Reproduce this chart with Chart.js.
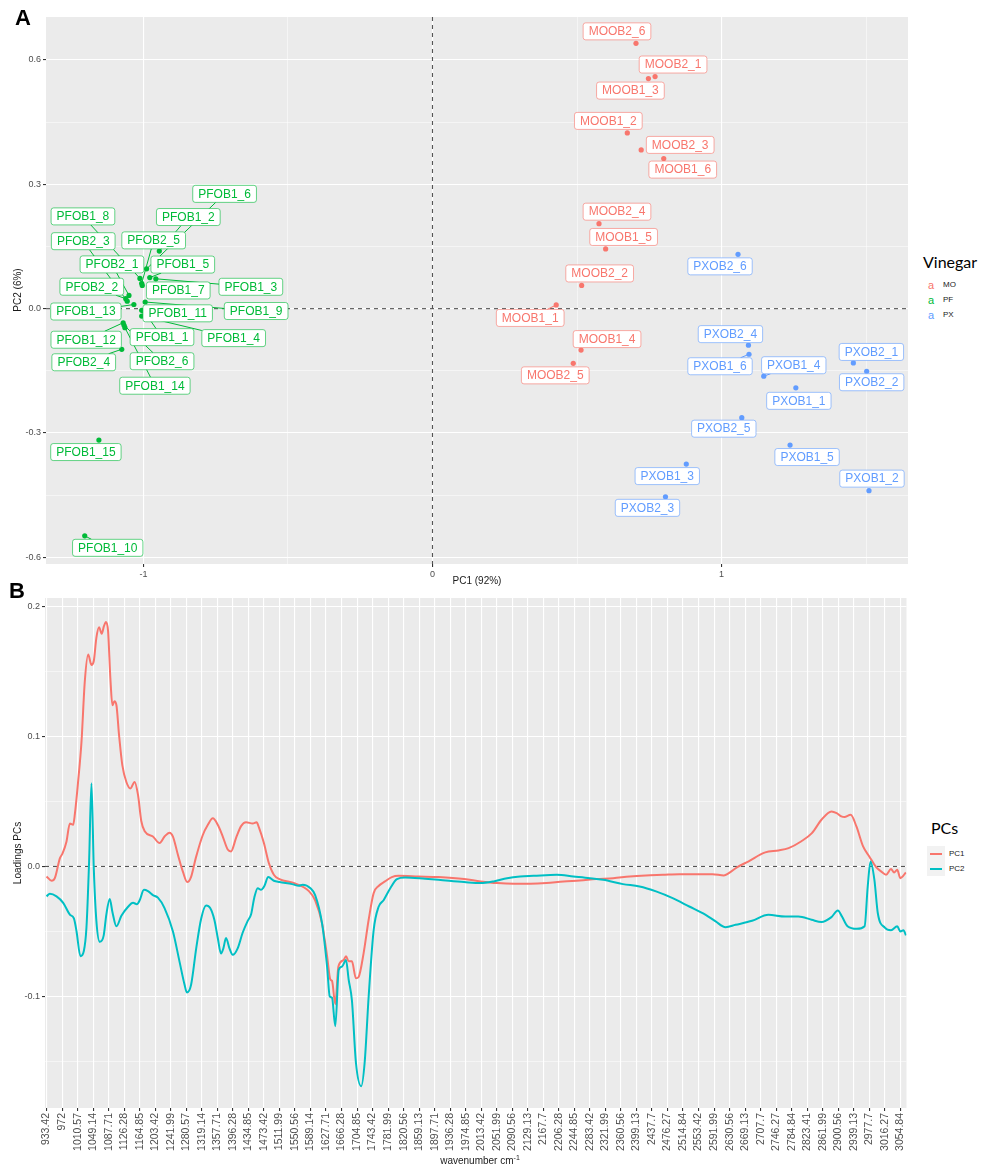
<!DOCTYPE html>
<html>
<head>
<meta charset="utf-8">
<title>Vinegar PCA scores and loadings</title>
<script src="https://cdn.jsdelivr.net/npm/chart.js@4.4.1/dist/chart.umd.min.js"></script>
<style>
  html, body { margin: 0; padding: 0; background: #fff; }
  body { position: relative; width: 982px; height: 1166px; overflow: hidden;
         font-family: "Liberation Sans", Arial, sans-serif; color: #1a1a1a; }
  canvas { position: absolute; left: 0; }
  #scores { top: 0; }
  #loadings { top: 590px; }
  .lbl { position: absolute; white-space: nowrap; line-height: 1; }
  .center { transform: translate(-50%, -50%); }
  .rot { transform: translate(-50%, -50%) rotate(-90deg); }
  .panel { font-size: 22px; font-weight: bold; color: #000; }
  .axis-title { font-size: 10px; color: #1a1a1a; }
  .leg-title { font-family: Lato, "Open Sans", sans-serif; font-size: 16px; color: #000; }
  .leg-text { font-size: 8px; color: #1a1a1a; transform: translateY(-50%); }
  .leg-key { font-size: 11px; transform: translate(-50%, -50%); }
  .key-box { position: absolute; width: 18px; height: 15px; background: #F2F2F2; }
  .key-line { position: absolute; left: 3px; right: 3px; top: 6.5px; height: 2px; }
</style>
</head>
<body>
<canvas id="scores" width="915" height="590"></canvas>
<canvas id="loadings" width="915" height="576"></canvas>

<div class="lbl panel" style="left:15px; top:7px;">A</div>
<div class="lbl panel" style="left:9px; top:580px;">B</div>

<div class="lbl axis-title center" style="left:477px; top:581px;">PC1 (92%)</div>
<div class="lbl axis-title rot" style="left:18px; top:290px;">PC2 (6%)</div>
<div class="lbl axis-title rot" style="left:18px; top:853px;">Loadings PCs</div>
<div class="lbl axis-title center" style="left:480px; top:1160px;">wavenumber cm<sup style="font-size:7px">-1</sup></div>

<div id="legendA"></div>
<div id="legendB"></div>

<script>
// ---- panel A: PCA scores ----
const samples = [
  'MOOB1_1', 'MOOB1_2', 'MOOB1_3', 'MOOB1_4', 'MOOB1_5', 'MOOB1_6',
  'MOOB2_1', 'MOOB2_2', 'MOOB2_3', 'MOOB2_4', 'MOOB2_5', 'MOOB2_6',
  'PFOB1_1', 'PFOB1_2', 'PFOB1_3', 'PFOB1_4', 'PFOB1_5', 'PFOB1_6', 'PFOB1_7', 'PFOB1_8',
  'PFOB1_9', 'PFOB1_10', 'PFOB1_11', 'PFOB1_12', 'PFOB1_13', 'PFOB1_14', 'PFOB1_15',
  'PFOB2_1', 'PFOB2_2', 'PFOB2_3', 'PFOB2_4', 'PFOB2_5', 'PFOB2_6',
  'PXOB1_1', 'PXOB1_2', 'PXOB1_3', 'PXOB1_4', 'PXOB1_5', 'PXOB1_6',
  'PXOB2_1', 'PXOB2_2', 'PXOB2_3', 'PXOB2_4', 'PXOB2_5', 'PXOB2_6'
];
const pc1Scores = [
  0.428, 0.674, 0.747, 0.514, 0.599, 0.800,
  0.770, 0.516, 0.722, 0.576, 0.487, 0.704,
  -0.998, -0.945, -0.957, -1.006, -0.978, -0.989, -1.004, -1.012,
  -0.994, -1.203, -1.006, -1.070, -1.033, -1.064, -1.154,
  -1.050, -1.061, -1.056, -1.075, -1.006, -1.067,
  1.257, 1.510, 0.878, 1.146, 1.237, 1.095,
  1.456, 1.502, 0.806, 1.093, 1.070, 1.057
];
const pc2Scores = [
  0.009, 0.424, 0.555, -0.100, 0.144, 0.362,
  0.560, 0.056, 0.383, 0.205, -0.132, 0.640,
  -0.006, 0.139, 0.072, -0.018, 0.075, 0.096, 0.056, 0.073,
  0.016, -0.548, -0.004, -0.034, 0.010, -0.046, -0.317,
  0.032, 0.024, 0.018, -0.098, 0.061, -0.040,
  -0.191, -0.439, -0.375, -0.163, -0.329, -0.110,
  -0.131, -0.151, -0.454, -0.088, -0.263, 0.131
];
const vinegarGroups = ['MO', 'PF', 'PX'];
const scoreXTicks = [-1, -0.5, 0, 0.5, 1, 1.5];
const scoreXLabels = ['-1', '', '0', '', '1', ''];
const scoreYTicks = [-0.6, -0.45, -0.3, -0.15, 0, 0.15, 0.3, 0.45, 0.6];
const scoreYLabels = ['-0.6', '', '-0.3', '', '0.0', '', '0.3', '', '0.6'];

// ---- panel B: loadings ----
const pc1Wavenumbers = [
  933.4, 945.8, 953.9, 966.6, 973.1, 982.8, 991.3, 999.4, 1003.6, 1011.7,
  1020.2, 1028.3, 1036.8, 1044.9, 1050.7, 1057.2, 1063.8, 1070.4, 1076.1, 1081.1,
  1086.2, 1091.9, 1097.0, 1102.0, 1107.0, 1113.5, 1121.6, 1131.7, 1141.7, 1152.1,
  1160.6, 1168.7, 1177.2, 1197.6, 1214.2, 1226.5, 1238.9, 1247.4, 1259.7, 1272.1,
  1282.9, 1292.5, 1304.1, 1321.4, 1334.2, 1346.5, 1358.8, 1371.2, 1383.5, 1391.6,
  1404.3, 1416.7, 1429.0, 1445.6, 1455.3, 1461.0, 1473.4, 1485.7, 1498.1, 1512.0,
  1550.6, 1585.2, 1600.7, 1618.0, 1630.4, 1638.5, 1642.7, 1650.8, 1658.5, 1671.6,
  1677.4, 1684.0, 1692.1, 1702.1, 1708.7, 1721.0, 1733.7, 1746.1, 1758.4, 1774.2,
  1791.2, 1807.8, 1857.6, 1906.9, 1971.0, 2011.8, 2053.1, 2094.4, 2135.3, 2175.4,
  2217.8, 2258.7, 2298.8, 2341.2, 2382.1, 2422.3, 2464.7, 2505.2, 2545.7, 2588.1,
  2616.3, 2628.6, 2649.8, 2676.8, 2719.2, 2752.0, 2777.1, 2808.0, 2835.0, 2858.8,
  2883.5, 2896.6, 2908.2, 2915.9, 2931.3, 2945.6, 2962.2, 2977.6, 2994.6, 3006.9,
  3019.3, 3031.6, 3039.3, 3047.0, 3054.8, 3068.6
];
const pc1Loadings = [
  -0.0077, -0.011, -0.009, 0.0064, 0.010, 0.019, 0.033, 0.032, 0.040, 0.065,
  0.096, 0.142, 0.163, 0.155, 0.158, 0.176, 0.184, 0.179, 0.185, 0.188,
  0.181, 0.145, 0.124, 0.127, 0.124, 0.101, 0.078, 0.065, 0.060, 0.065,
  0.055, 0.035, 0.027, 0.023, 0.018, 0.023, 0.026, 0.023, 0.009, -0.004,
  -0.012, -0.008, 0.0064, 0.024, 0.032, 0.037, 0.032, 0.023, 0.013, 0.0115,
  0.022, 0.031, 0.034, 0.033, 0.034, 0.030, 0.018, 0.0026, -0.0064, -0.0097,
  -0.013, -0.019, -0.026, -0.044, -0.069, -0.087, -0.088, -0.106, -0.077, -0.072,
  -0.069, -0.073, -0.073, -0.086, -0.085, -0.067, -0.041, -0.0205, -0.015, -0.0115,
  -0.0082, -0.0072, -0.0077, -0.0082, -0.0097, -0.0115, -0.0128, -0.0133, -0.0133, -0.0128,
  -0.0115, -0.0108, -0.0097, -0.009, -0.0077, -0.0069, -0.0064, -0.0059, -0.0059, -0.0059,
  -0.0069, -0.0051, -0.0005, 0.0038, 0.0108, 0.0123, 0.0141, 0.0192, 0.0256, 0.0359,
  0.0423, 0.041, 0.0385, 0.038, 0.0397, 0.0308, 0.0154, 0.0077, -0.0005, -0.0038,
  -0.0064, -0.002, -0.0046, -0.0026, -0.009, -0.0046
];
const pc2Wavenumbers = [
  933.4, 941.5, 958.1, 974.7, 991.3, 1001.3, 1007.9, 1017.5, 1026.0, 1032.5,
  1039.1, 1044.9, 1050.7, 1057.2, 1065.7, 1075.4, 1081.9, 1090.4, 1097.0, 1107.0,
  1119.3, 1135.9, 1148.2, 1157.9, 1164.8, 1175.3, 1185.3, 1197.6, 1210.0, 1226.5,
  1247.4, 1263.6, 1276.3, 1282.1, 1292.5, 1305.2, 1317.6, 1329.9, 1339.9, 1350.3,
  1358.8, 1366.9, 1372.7, 1379.3, 1387.8, 1395.9, 1408.2, 1420.6, 1432.9, 1441.4,
  1449.5, 1458.0, 1466.1, 1474.6, 1484.2, 1498.1, 1512.0, 1543.6, 1560.2, 1569.8,
  1589.1, 1600.7, 1618.0, 1630.4, 1637.0, 1642.7, 1650.8, 1659.3, 1667.4, 1677.4,
  1684.0, 1692.1, 1702.1, 1715.2, 1723.7, 1733.7, 1746.1, 1758.4, 1770.8, 1787.4,
  1803.9, 1824.4, 1874.1, 1906.9, 1971.0, 2011.8, 2044.3, 2077.8, 2109.8, 2143.4,
  2201.2, 2242.3, 2283.4, 2316.2, 2365.6, 2406.8, 2447.7, 2489.0, 2530.2, 2571.1,
  2595.8, 2620.5, 2645.2, 2686.4, 2726.9, 2768.6, 2801.4, 2834.2, 2858.8, 2883.5,
  2899.6, 2909.7, 2923.6, 2946.8, 2966.0, 2973.7, 2980.7, 2990.3, 2998.8, 3016.2,
  3031.6, 3047.0, 3054.8, 3062.5, 3068.6
];
const pc2Loadings = [
  -0.023, -0.021, -0.023, -0.028, -0.037, -0.040, -0.050, -0.069, -0.065, -0.047,
  0.004, 0.064, -0.0013, -0.042, -0.058, -0.053, -0.037, -0.025, -0.035, -0.046,
  -0.038, -0.031, -0.028, -0.029, -0.026, -0.018, -0.019, -0.022, -0.024, -0.032,
  -0.050, -0.073, -0.091, -0.097, -0.091, -0.063, -0.040, -0.030, -0.032, -0.041,
  -0.055, -0.067, -0.063, -0.055, -0.063, -0.068, -0.063, -0.051, -0.042, -0.037,
  -0.024, -0.0167, -0.018, -0.015, -0.0082, -0.011, -0.012, -0.0136, -0.0149, -0.014,
  -0.0167, -0.022, -0.044, -0.077, -0.100, -0.101, -0.123, -0.0795, -0.077, -0.072,
  -0.087, -0.103, -0.151, -0.169, -0.151, -0.100, -0.049, -0.031, -0.026, -0.0167,
  -0.0097, -0.0085, -0.0095, -0.0103, -0.012, -0.0128, -0.0115, -0.009, -0.0077, -0.0072,
  -0.0064, -0.0077, -0.009, -0.0103, -0.0136, -0.0154, -0.0192, -0.0244, -0.0308, -0.0372,
  -0.0423, -0.0467, -0.0449, -0.0418, -0.0372, -0.0385, -0.0385, -0.041, -0.0428, -0.039,
  -0.0338, -0.0385, -0.046, -0.048, -0.046, -0.0154, 0.0038, -0.0103, -0.036, -0.047,
  -0.049, -0.046, -0.050, -0.049, -0.053
];
const wavenumberTicks = [
  '933.42', '972', '1010.57', '1049.14', '1087.71', '1126.28', '1164.85', '1203.42',
  '1241.99', '1280.57', '1319.14', '1357.71', '1396.28', '1434.85', '1473.42', '1511.99',
  '1550.56', '1589.14', '1627.71', '1666.28', '1704.85', '1743.42', '1781.99', '1820.56',
  '1859.13', '1897.71', '1936.28', '1974.85', '2013.42', '2051.99', '2090.56', '2129.13',
  '2167.7', '2206.28', '2244.85', '2283.42', '2321.99', '2360.56', '2399.13', '2437.7',
  '2476.27', '2514.84', '2553.42', '2591.99', '2630.56', '2669.13', '2707.7', '2746.27',
  '2784.84', '2823.41', '2861.99', '2900.56', '2939.13', '2977.7', '3016.27', '3054.84'
];
const loadingYTicks = [-0.15, -0.1, -0.05, 0, 0.05, 0.1, 0.15, 0.2];
const loadingYLabels = ['', '-0.1', '', '0.0', '', '0.1', '', '0.2'];

// ---- styling / layout ----
const groupColours = { MO: '#F8766D', PF: '#00BA38', PX: '#619CFF' };
const pcColours = { PC1: '#F8766D', PC2: '#00BFC4' };
const FONT = '"Liberation Sans", Arial, sans-serif';

// label box offsets (px, box centre relative to its point), as placed by the repel layout
const labelOffsets = {
  MOOB1_1: [-26, 13], MOOB1_2: [-19, -12], MOOB1_3: [-18, 12], MOOB1_4: [26, -11],
  MOOB1_5: [18, -12], MOOB1_6: [19, 11], MOOB2_1: [18, -12], MOOB2_2: [18, -12],
  MOOB2_3: [39, -5], MOOB2_4: [18, -12], MOOB2_5: [-18, 12], MOOB2_6: [-19, -12],
  PXOB1_1: [3, 13], PXOB1_2: [3, -12], PXOB1_3: [-19, 12], PXOB1_4: [30, -11],
  PXOB1_5: [17, 12], PXOB1_6: [-29, 12], PXOB2_1: [18, -11], PXOB2_2: [5, 11],
  PXOB2_3: [-18, 11], PXOB2_4: [-18, -11], PXOB2_5: [-18, 11], PXOB2_6: [-18, 12],
  PFOB1_1: [18, 26], PFOB1_2: [29, -34], PFOB1_3: [95, 8], PFOB1_4: [92, 22],
  PFOB1_5: [33, -13], PFOB1_6: [78, -75], PFOB1_7: [36, 5], PFOB1_8: [-57, -62],
  PFOB1_9: [111, 9], PFOB1_10: [23, 12], PFOB1_11: [36, 3], PFOB1_12: [-37, 17],
  PFOB1_13: [-48, 7], PFOB1_14: [30, 58], PFOB1_15: [-13, 12], PFOB2_1: [-17, -31],
  PFOB2_2: [-34, -12], PFOB2_3: [-44, -60], PFOB2_4: [-38, 13], PFOB2_5: [12, -43],
  PFOB2_6: [38, 36]
};

const groupOf = name => name.slice(0, 2);

// grey panel like ggplot's theme_gray
const panelBg = {
  id: 'panelBg',
  beforeDraw(chart) {
    const a = chart.chartArea, ctx = chart.ctx;
    ctx.save();
    ctx.fillStyle = '#EBEBEB';
    ctx.fillRect(a.left, a.top, a.right - a.left, a.bottom - a.top);
    ctx.restore();
  }
};

// dashed reference lines at zero
const zeroLines = {
  id: 'zeroLines',
  beforeDatasetsDraw(chart, args, opts) {
    const a = chart.chartArea, ctx = chart.ctx;
    ctx.save();
    ctx.strokeStyle = '#555555';
    ctx.lineWidth = 1.1;
    ctx.setLineDash([4, 4]);
    const y0 = chart.scales.y.getPixelForValue(0);
    ctx.beginPath(); ctx.moveTo(a.left, y0); ctx.lineTo(a.right, y0); ctx.stroke();
    if (opts.vertical) {
      const x0 = chart.scales.x.getPixelForValue(0);
      ctx.beginPath(); ctx.moveTo(x0, a.top); ctx.lineTo(x0, a.bottom); ctx.stroke();
    }
    ctx.restore();
  }
};

// boxed sample labels with leader segments
const sampleLabels = {
  id: 'sampleLabels',
  afterDatasetsDraw(chart) {
    const ctx = chart.ctx;
    const boxes = [];
    ctx.save();
    ctx.font = '12px ' + FONT;
    chart.data.datasets.forEach((ds, di) => {
      const meta = chart.getDatasetMeta(di);
      ds.data.forEach((p, j) => {
        const el = meta.data[j];
        const off = labelOffsets[p.name] || [0, -12];
        const w = ctx.measureText(p.name).width + 11;
        const h = 17;
        boxes.push({ name: p.name, colour: ds.borderColor, px: el.x, py: el.y,
                     cx: el.x + off[0], cy: el.y + off[1], w, h });
      });
    });
    // segments first
    boxes.forEach(b => {
      const dx = b.px - b.cx, dy = b.py - b.cy;
      const tx = dx !== 0 ? (b.w / 2) / Math.abs(dx) : Infinity;
      const ty = dy !== 0 ? (b.h / 2) / Math.abs(dy) : Infinity;
      const t = Math.min(tx, ty);
      if (t >= 1) return;
      const ex = b.cx + t * dx, ey = b.cy + t * dy;
      const len = Math.hypot(b.px - ex, b.py - ey);
      if (len < 7) return;
      ctx.strokeStyle = b.colour;
      ctx.lineWidth = 1;
      ctx.beginPath(); ctx.moveTo(ex, ey); ctx.lineTo(b.px, b.py); ctx.stroke();
    });
    boxes.forEach(b => {
      const x = b.cx - b.w / 2, y = b.cy - b.h / 2;
      ctx.beginPath();
      ctx.roundRect(x, y, b.w, b.h, 2.5);
      ctx.fillStyle = '#FFFFFF';
      ctx.fill();
      ctx.strokeStyle = b.colour + '99';
      ctx.lineWidth = 1;
      ctx.stroke();
      ctx.fillStyle = b.colour;
      ctx.textAlign = 'center';
      ctx.textBaseline = 'middle';
      ctx.fillText(b.name, b.cx, b.cy + 0.5);
    });
    ctx.restore();
  }
};

function fixedTicks(values, labels) {
  return scale => {
    scale.ticks = values.map((v, i) => ({ value: v, major: labels[i] !== '' }));
  };
}

const ggGrid = {
  color: '#FFFFFF',
  lineWidth: c => (c.tick && c.tick.major ? 1.1 : 0.5),
  tickColor: c => (c.tick && c.tick.major ? '#333333' : 'rgba(0,0,0,0)'),
  tickLength: 3
};

// Panel A
new Chart(document.getElementById('scores'), {
  type: 'scatter',
  data: {
    datasets: vinegarGroups.map(g => ({
      label: g,
      data: samples
        .map((s, i) => ({ x: pc1Scores[i], y: pc2Scores[i], name: s }))
        .filter(p => groupOf(p.name) === g),
      backgroundColor: groupColours[g],
      borderColor: groupColours[g],
      pointRadius: 2.6,
      borderWidth: 0
    }))
  },
  options: {
    responsive: false,
    animation: false,
    layout: { padding: { top: 17, right: 7, left: 0, bottom: 0 } },
    plugins: {
      legend: { display: false },
      tooltip: { enabled: false },
      zeroLines: { vertical: true }
    },
    scales: {
      x: {
        type: 'linear', min: -1.337, max: 1.645,
        afterBuildTicks: fixedTicks(scoreXTicks, scoreXLabels),
        afterFit: s => { s.height = 26; },
        grid: ggGrid,
        border: { display: false },
        ticks: { autoSkip: false, maxRotation: 0, padding: 2, color: '#4D4D4D',
                 font: { family: FONT, size: 9 }, callback: (v, i) => scoreXLabels[i] }
      },
      y: {
        type: 'linear', min: -0.616, max: 0.7036,
        afterBuildTicks: fixedTicks(scoreYTicks, scoreYLabels),
        afterFit: s => { s.width = 46; },
        grid: ggGrid,
        border: { display: false },
        ticks: { autoSkip: false, padding: 2, color: '#4D4D4D',
                 font: { family: FONT, size: 9 }, callback: (v, i) => scoreYLabels[i] }
      }
    }
  },
  plugins: [panelBg, zeroLines, sampleLabels]
});

// Panel B
const wavenumberValues = wavenumberTicks.map(Number);
new Chart(document.getElementById('loadings'), {
  type: 'line',
  data: {
    datasets: [
      { label: 'PC1', order: 1,
        data: pc1Wavenumbers.map((w, i) => ({ x: w, y: pc1Loadings[i] })),
        borderColor: pcColours.PC1, borderWidth: 2, pointRadius: 0,
        cubicInterpolationMode: 'monotone', fill: false },
      { label: 'PC2', order: 0,
        data: pc2Wavenumbers.map((w, i) => ({ x: w, y: pc2Loadings[i] })),
        borderColor: pcColours.PC2, borderWidth: 2, pointRadius: 0,
        cubicInterpolationMode: 'monotone', fill: false }
    ]
  },
  options: {
    responsive: false,
    animation: false,
    layout: { padding: { top: 8, right: 4, left: 0, bottom: 0 } },
    plugins: {
      legend: { display: false },
      tooltip: { enabled: false },
      zeroLines: { vertical: false }
    },
    scales: {
      x: {
        type: 'linear', min: 929.5, max: 3070,
        afterBuildTicks: fixedTicks(wavenumberValues, wavenumberTicks),
        afterFit: s => { s.height = 58; },
        grid: ggGrid,
        border: { display: false },
        ticks: { autoSkip: false, minRotation: 90, maxRotation: 90, padding: 2, color: '#4D4D4D',
                 font: { family: FONT, size: 10.5 }, callback: (v, i) => wavenumberTicks[i] }
      },
      y: {
        type: 'linear', min: -0.1858, max: 0.2065,
        afterBuildTicks: fixedTicks(loadingYTicks, loadingYLabels),
        afterFit: s => { s.width = 45; },
        grid: ggGrid,
        border: { display: false },
        ticks: { autoSkip: false, padding: 2, color: '#4D4D4D',
                 font: { family: FONT, size: 9 }, callback: (v, i) => loadingYLabels[i] }
      }
    }
  },
  plugins: [panelBg, zeroLines]
});

// legends
const legA = document.getElementById('legendA');
legA.innerHTML = '<div class="lbl leg-title" style="left:923px; top:254px;">Vinegar</div>' +
  vinegarGroups.map((g, i) => {
    const y = 285 + i * 15;
    return '<div class="lbl leg-key" style="left:931px; top:' + y + 'px; color:' + groupColours[g] + ';">a</div>' +
           '<div class="lbl leg-text" style="left:943px; top:' + y + 'px;">' + g + '</div>';
  }).join('');

const legB = document.getElementById('legendB');
legB.innerHTML = '<div class="lbl leg-title" style="left:931px; top:820px;">PCs</div>' +
  ['PC1', 'PC2'].map((k, i) => {
    const top = 846 + i * 15;
    return '<div class="key-box" style="left:927px; top:' + top + 'px;"><div class="key-line" style="background:' + pcColours[k] + ';"></div></div>' +
           '<div class="lbl leg-text" style="left:949px; top:' + (top + 7.5) + 'px;">' + k + '</div>';
  }).join('');
</script>
</body>
</html>
